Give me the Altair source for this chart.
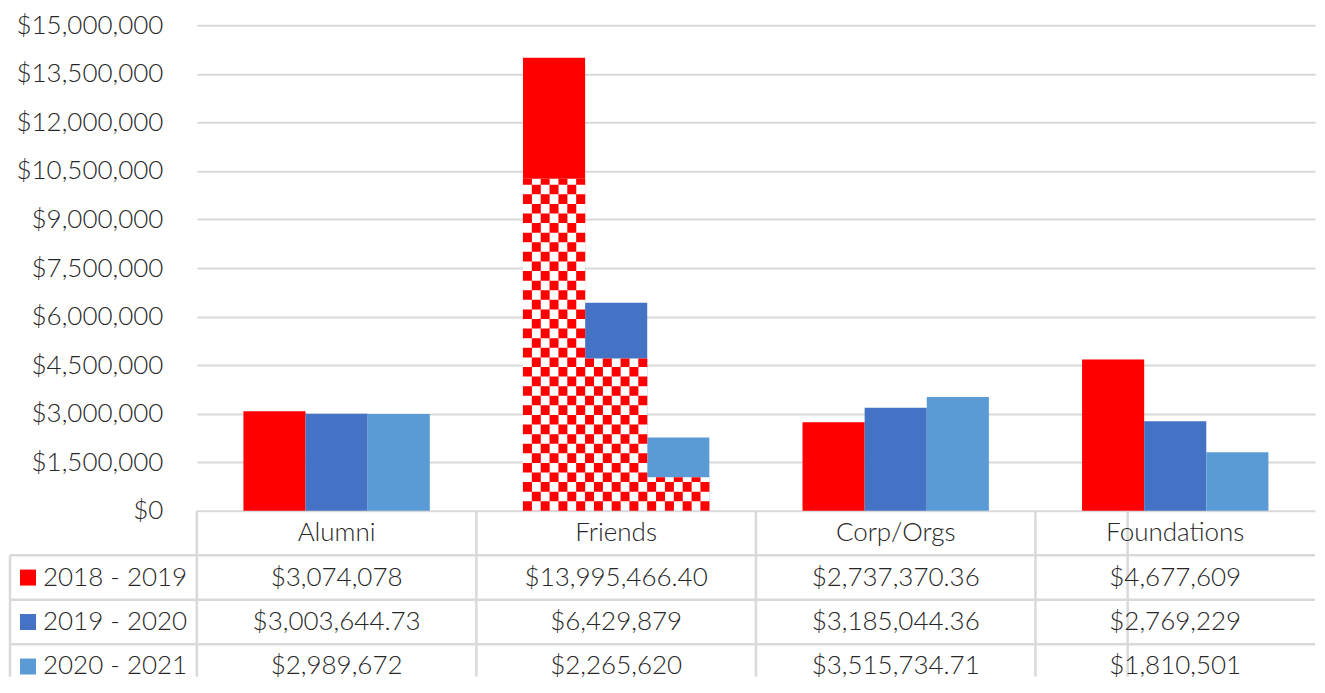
import altair as alt
import pandas as pd

# ---------------- data ----------------
categories = ["Alumni", "Friends", "Corp/Orgs", "Foundations"]
series = ["2018 - 2019", "2019 - 2020", "2020 - 2021"]
values_2018_2019 = [3074078, 13995466.40, 2737370.36, 4677609]
values_2019_2020 = [3003644.73, 6429879, 3185044.36, 2769229]
values_2020_2021 = [2989672, 2265620, 3515734.71, 1810501]
series_colors = ["#FF0000", "#4472C4", "#5B9BD5"]
y_ticks = [0, 1500000, 3000000, 4500000, 6000000, 7500000, 9000000,
           10500000, 12000000, 13500000, 15000000]
# checkered (red/white) overlay on the Friends bars: value up to which each bar is patterned
friends_pattern_top = [10260000, 4710000, 1040000]
pattern_cols_per_bar = 7

# ---------------- layout / style ----------------
W = 1119          # plot width
H = 486           # plot height
ROW = 44.5        # table row height
LABEL_COL = 187   # width of the table's label column
STEP = W / 4      # category step
FONT = "Lato"
FW = 300
FS = 26
TEXT_COLOR = "#262626"
LINE_COLOR = "#D9D9D9"


def fmt(v):
    return f"${v:,.2f}" if round(v) != v else f"${v:,.0f}"


all_values = [values_2018_2019, values_2019_2020, values_2020_2021]
rows = []
for s, vals in zip(series, all_values):
    for c, v in zip(categories, vals):
        rows.append({"cat": c, "series": s, "value": v, "row": s, "text": fmt(v)})
df = pd.DataFrame(rows)

header_df = pd.DataFrame({"cat": categories, "row": ["header"] * len(categories),
                          "text": categories})
table_df = pd.concat([header_df, df[["cat", "row", "text"]]], ignore_index=True)

label_df = pd.DataFrame({"series": series, "row": series})

white_df = pd.DataFrame({"cat": ["Friends"] * 3, "series": series, "top": friends_pattern_top})

checker_rows = []
keys = []
for si, s in enumerate(series):
    for c in range(pattern_cols_per_bar):
        k = f"{si}-{c}"
        keys.append(k)
        checker_rows.append({"cat": "Friends", "key": k, "parity": (si * pattern_cols_per_bar + c) % 2,
                             "zero": 0, "top": friends_pattern_top[si]})
checker_df = pd.DataFrame(checker_rows)

vline_df = pd.DataFrame({"cat": categories})
hline_df = pd.DataFrame({"row": series})

row_domain = ["header"] + series

# ---------------- encodings ----------------
x_scale = alt.Scale(domain=categories, paddingInner=1 / 3, paddingOuter=1 / 6)
x_enc = alt.X("cat:N", scale=x_scale, axis=None)
y_scale = alt.Scale(domain=[0, 15000000], nice=False, zero=True)
y_axis = alt.Axis(values=y_ticks, format="$,.0f", grid=True, gridColor=LINE_COLOR, gridWidth=2,
                  domain=False, ticks=False, labelPadding=34, labelFontSize=FS, labelFont=FONT,
                  labelFontWeight=FW, labelColor=TEXT_COLOR, title=None)
row_scale = alt.Scale(domain=row_domain, range=[H, H + 4 * ROW], paddingInner=0, paddingOuter=0)
xoff_series = alt.XOffset("series:N", scale=alt.Scale(domain=series, paddingInner=0, paddingOuter=0))

bars = alt.Chart(df).mark_bar().encode(
    x=x_enc,
    xOffset=xoff_series,
    y=alt.Y("value:Q", scale=y_scale, axis=y_axis),
    color=alt.Color("series:N", scale=alt.Scale(domain=series, range=series_colors), legend=None),
)

white = alt.Chart(white_df).mark_bar(color="white").encode(
    x=x_enc,
    xOffset=xoff_series,
    y=alt.Y("top:Q", scale=y_scale, axis=None),
)


def checker_layer(parity, offset):
    return alt.Chart(checker_df).transform_filter(f"datum.parity == {parity}").mark_rule(
        color="#FF0000", strokeWidth=9, strokeDash=[9.6, 9.6], strokeDashOffset=offset
    ).encode(
        x=x_enc,
        xOffset=alt.XOffset("key:N", scale=alt.Scale(domain=keys, paddingInner=0, paddingOuter=0)),
        y=alt.Y("zero:Q", scale=y_scale, axis=None),
        y2="top:Q",
    )


checker_even = checker_layer(0, 0)
checker_odd = checker_layer(1, 9.6)

# table borders (category boundaries sit half a padding outside each band)
LINE_BOTTOM = H + 4 * ROW - 12
vlines = alt.Chart(vline_df).mark_rule(color=LINE_COLOR, strokeWidth=2.5).encode(
    x=alt.X("cat:N", scale=x_scale, axis=None, bandPosition=0),
    xOffset=alt.value(-STEP / 6),
    y=alt.value(H),
    y2=alt.value(LINE_BOTTOM),
)
vline_last = alt.Chart(pd.DataFrame({"cat": [categories[-1]]})).mark_rule(
    color=LINE_COLOR, strokeWidth=2.5).encode(
    x=alt.X("cat:N", scale=x_scale, axis=None, bandPosition=1),
    xOffset=alt.value(STEP / 6 - 1),
    y=alt.value(H),
    y2=alt.value(LINE_BOTTOM),
)
vline_left = alt.Chart(pd.DataFrame({"cat": ["Alumni"]})).mark_rule(
    color=LINE_COLOR, strokeWidth=2.5).encode(
    x=alt.value(-LABEL_COL),
    y=alt.value(H + ROW),
    y2=alt.value(LINE_BOTTOM),
)
hlines = alt.Chart(hline_df).mark_rule(color=LINE_COLOR, strokeWidth=2.5).encode(
    y=alt.Y("row:N", scale=row_scale, axis=None, bandPosition=0),
    x=alt.value(-LABEL_COL),
    x2=alt.value(W),
)

table_text = alt.Chart(table_df).mark_text(font=FONT, fontSize=FS, fontWeight=FW,
                                           color=TEXT_COLOR).encode(
    x=x_enc,
    y=alt.Y("row:N", scale=row_scale, axis=None),
    text="text:N",
)

legend_sq = alt.Chart(label_df).mark_square(size=256, opacity=1).encode(
    x=alt.value(-LABEL_COL + 18),
    y=alt.Y("row:N", scale=row_scale, axis=None),
    color=alt.Color("series:N", scale=alt.Scale(domain=series, range=series_colors), legend=None),
)
legend_txt = alt.Chart(label_df).mark_text(font=FONT, fontSize=FS, fontWeight=FW,
                                           color=TEXT_COLOR, align="left").encode(
    x=alt.value(-LABEL_COL + 33),
    y=alt.Y("row:N", scale=row_scale, axis=None),
    text="series:N",
)

chart = alt.layer(
    bars, white, checker_even, checker_odd,
    vlines, vline_last, vline_left, hlines, table_text, legend_sq, legend_txt,
).resolve_scale(
    y="independent", xOffset="independent"
).properties(
    width=W, height=H,
    padding={"left": 0, "top": 4, "right": 0, "bottom": 3},
).configure(
    background="white", view=alt.ViewConfig(stroke=None)
)

chart.save("out.html", embed_options={"renderer": "svg", "actions": False})
